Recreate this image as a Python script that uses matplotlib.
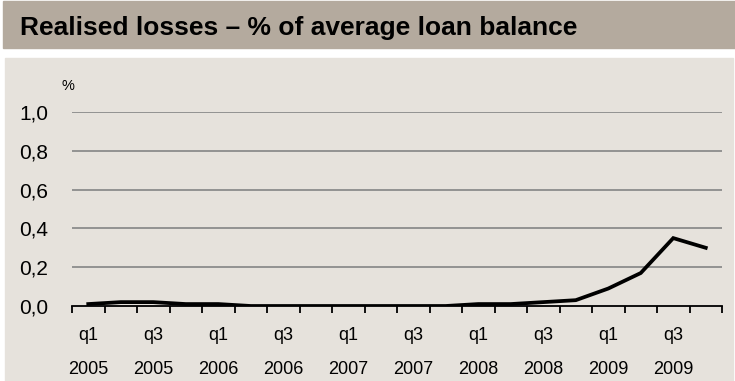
import matplotlib

matplotlib.use("Agg")
import matplotlib.pyplot as plt
from matplotlib.patches import Rectangle
from matplotlib.ticker import FixedLocator, FuncFormatter

plt.rcParams["font.family"] = ["Liberation Sans", "DejaVu Sans"]

# quarterly realised losses, % of average loan balance
quarters = [f"q{q}\n{y}" for y in range(2005, 2010) for q in range(1, 5)]
losses = [0.01, 0.02, 0.02, 0.01, 0.01, 0.0, 0.0, 0.0,
          0.0, 0.0, 0.0, 0.0, 0.01, 0.01, 0.02, 0.03,
          0.09, 0.17, 0.35, 0.30]
yticks = [0.0, 0.2, 0.4, 0.6, 0.8, 1.0]

W, H = 735, 381
fig = plt.figure(figsize=(W / 100, H / 100), dpi=100)
fig.patch.set_facecolor("white")

# title bar and chart panel
fig.patches.append(Rectangle((3 / W, 1 - 48 / H), 732 / W, 47 / H,
                             transform=fig.transFigure, color="#b4aa9e", zorder=-10))
fig.patches.append(Rectangle((5 / W, 1 - 381 / H), 728 / W, 323 / H,
                             transform=fig.transFigure, color="#e6e2dc", zorder=-10))
fig.text(20 / W, 1 - 28 / H, "Realised losses \u2013 % of average loan balance",
         fontsize=19, fontweight="bold", va="center", ha="left")

ax = fig.add_axes([72 / W, (H - 306) / H, 650 / W, 194 / H])
ax.set_facecolor("none")
x = list(range(len(losses)))
ax.plot(x, losses, color="black", lw=2.7, solid_joinstyle="miter", zorder=3)

ax.set_xlim(-0.5, len(losses) - 0.5)
ax.set_ylim(0, 1.0)
ax.set_yticks(yticks)
ax.yaxis.set_major_formatter(FuncFormatter(lambda v, _: f"{v:.1f}".replace(".", ",")))
ax.tick_params(axis="y", length=0, pad=17, labelsize=15)
for v in yticks[1:]:
    ax.axhline(v, color="#8c8c8c", lw=1.3, zorder=1)

ax.xaxis.set_major_locator(FixedLocator(x[::2]))
ax.set_xticklabels(quarters[::2], linespacing=2.3)
ax.xaxis.set_minor_locator(FixedLocator([i - 0.5 for i in range(len(losses) + 1)]))
ax.tick_params(axis="x", which="major", length=0, pad=15, labelsize=13)
ax.tick_params(axis="x", which="minor", length=5, width=1.3, direction="out", color="black")

for s in ("top", "right", "left"):
    ax.spines[s].set_visible(False)
ax.spines["bottom"].set_linewidth(1.3)
ax.spines["bottom"].set_zorder(4)

fig.text(62 / W, 1 - 86 / H, "%", fontsize=10.5, va="center", ha="left")

fig.savefig("out.png", dpi=100)
